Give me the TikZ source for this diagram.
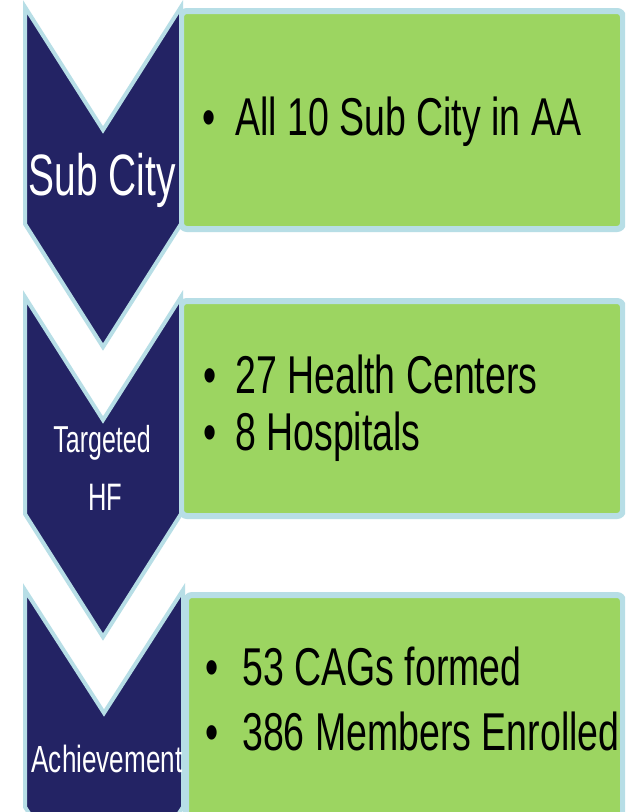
\documentclass[tikz,border=0pt]{standalone}
\usepackage{fontspec}
\setmainfont{Liberation Sans}
\definecolor{navy}{RGB}{35,35,100}
\definecolor{leaf}{RGB}{156,213,97}
\definecolor{rim}{RGB}{183,222,230}
\newcommand{\bodytxt}[1]{\scalebox{1}[1.42]{\fontsize{37.5}{40}\selectfont #1}}
\newcommand{\labtxt}[3]{\scalebox{1}[#2]{\fontsize{#1}{#1}\selectfont #3}}
\begin{document}
\begin{tikzpicture}[x=1pt,y=-1pt,
  panel/.style={fill=leaf, draw=rim, line width=6pt, rounded corners=6pt},
  chev/.style={fill=navy, draw=rim, line width=4pt, line join=miter},
  item/.style={anchor=base west, inner sep=0pt, text=black},
  dot/.style={anchor=base, inner sep=0pt, text=black},
  lbl/.style={anchor=base, inner sep=0pt, text=white}]
\useasboundingbox (0,0) rectangle (625,812);
\clip (0,0) rectangle (625,812);
\fill[white] (0,0) rectangle (625,812);
% panels
\path[panel] (181,11) rectangle (623,229);
\path[panel] (181,301) rectangle (623,516);
\path[panel] (186,595) rectangle (623,840);
% chevrons
\path[chev] (25,7) -- (103,130) -- (181,7) -- (181,224) -- (103,347) -- (25,224) -- cycle;
\path[chev] (25,297) -- (103,420) -- (181,297) -- (181,514) -- (103,637) -- (25,514) -- cycle;
\path[chev] (25,590) -- (104,713) -- (183,590) -- (183,807) -- (104,930) -- (25,807) -- cycle;
% chevron labels
\node[lbl] (l1) at (102,195) {\labtxt{38.9}{1.5}{Sub City}};
\node[lbl] (l2a) at (102,452) {\labtxt{25}{1.5}{Targeted}};
\node[lbl] (l2b) at (105,510) {\labtxt{25.5}{1.5}{HF}};
\node[lbl] (l3) at (107,772) {\labtxt{26.1}{1.45}{Achievement}};
% items
\node[dot] (d1) at (209,135) {\bodytxt{•}};
\node[item] (t1) at (235,135) {\bodytxt{All 10 Sub City in AA}};
\node[dot] (d2) at (210,393) {\bodytxt{•}};
\node[item] (t2) at (235,393) {\bodytxt{27 Health Centers}};
\node[dot] (d3) at (210,450) {\bodytxt{•}};
\node[item] (t3) at (235,450) {\bodytxt{8 Hospitals}};
\node[dot] (d4) at (212,685) {\bodytxt{•}};
\node[item] (t4) at (242,685) {\bodytxt{53 CAGs formed}};
\node[dot] (d5) at (212,750) {\bodytxt{•}};
\node[item] (t5) at (242,750) {\bodytxt{386 Members Enrolled}};
\end{tikzpicture}
\end{document}
